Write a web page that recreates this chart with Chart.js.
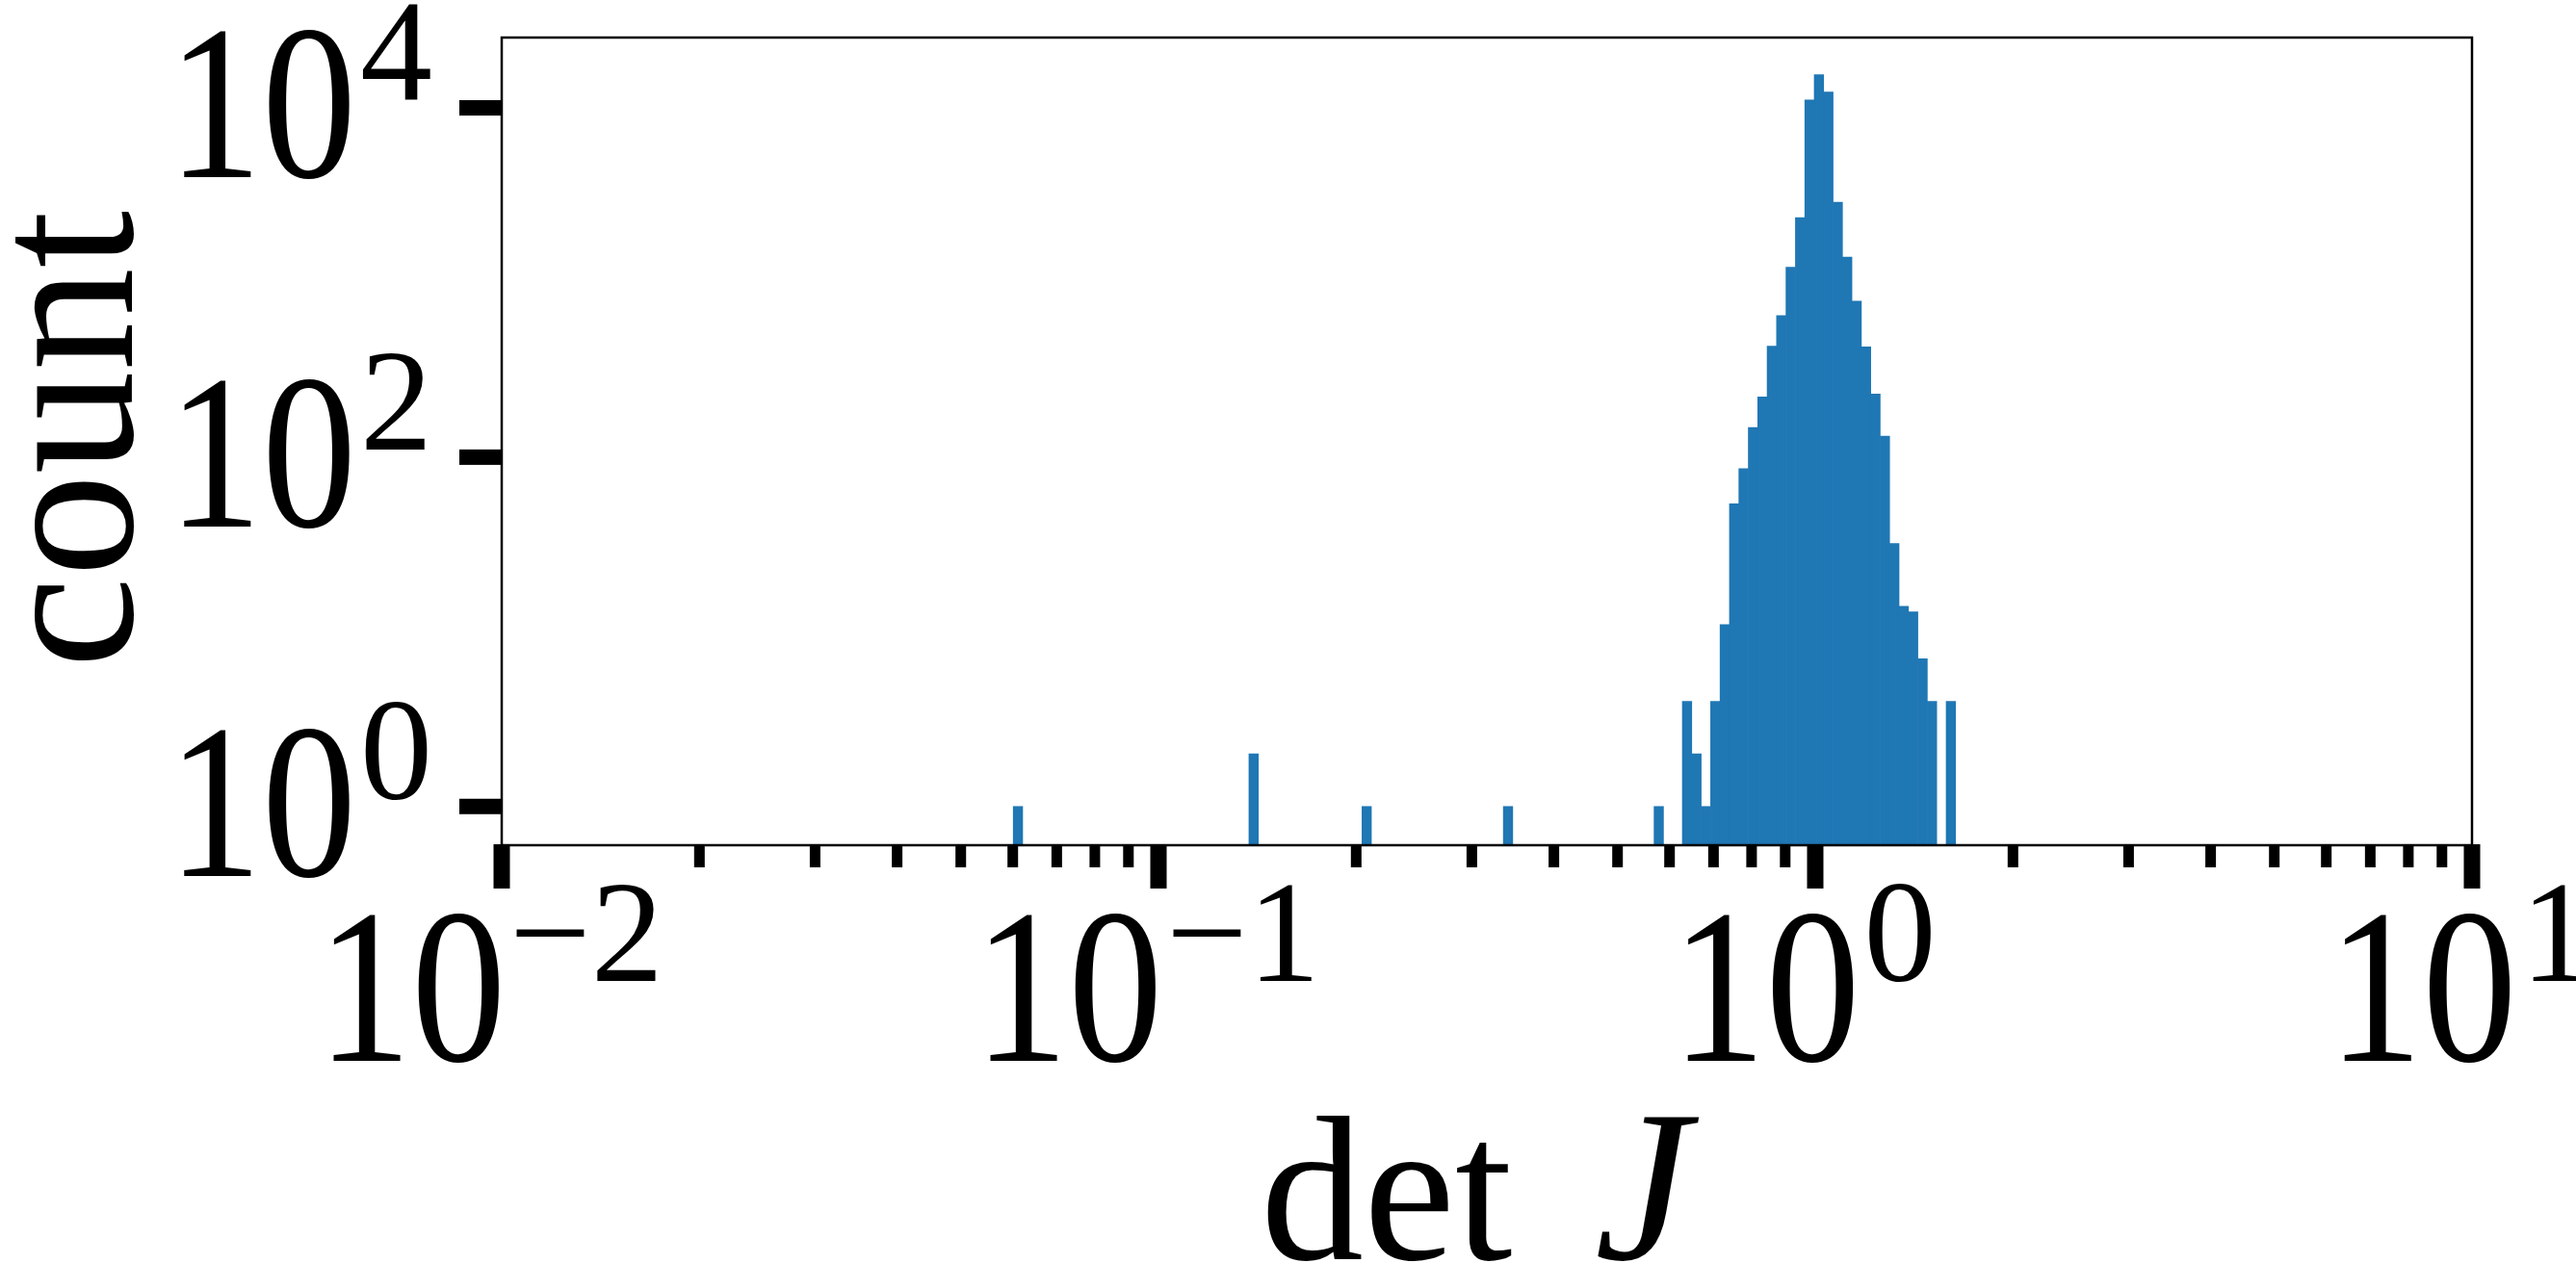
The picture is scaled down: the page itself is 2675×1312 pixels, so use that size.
<!DOCTYPE html>
<html><head><meta charset="utf-8">
<script src="https://cdn.jsdelivr.net/npm/chart.js@4.4.1/dist/chart.umd.min.js"></script>
<style>html,body{margin:0;padding:0;background:#fff;} #wrap{width:2675px;height:1312px;}</style>
</head><body><div id="wrap"><canvas id="c" width="2675" height="1312"></canvas></div>
<script>
// histogram bins (centre of each log-spaced bin, det J) and counts
const binCenters = [0.0611, 0.1396, 0.2075, 0.3406, 0.5778, 0.6380, 0.6595, 0.6816, 0.7045, 0.7282,
  0.7526, 0.7778, 0.8040, 0.8310, 0.8589, 0.8877, 0.9175, 0.9484, 0.9802, 1.0131,
  1.0472, 1.0823, 1.1187, 1.1563, 1.1951, 1.2352, 1.2767, 1.3196, 1.3639, 1.4097,
  1.4571, 1.5060, 1.6089];
const counts = [1, 2, 1, 1, 1, 4, 2, 1, 4, 11,
  54, 86, 148, 221, 432, 647, 1224, 2349, 11100, 15490,
  12340, 2885, 1400, 783, 428, 230, 132, 32, 14, 13,
  7, 4, 4];

const xMajorTickValues = [0.01, 0.1, 1, 10];
const xTickExponents = ['\u22122', '\u22121', '0', '1'];
const xMinorTickValues = [0.02,0.03,0.04,0.05,0.06,0.07,0.08,0.09,
  0.2,0.3,0.4,0.5,0.6,0.7,0.8,0.9, 2,3,4,5,6,7,8,9];
const yMajorTickValues = [1, 100, 10000];
const yTickExponents = ['0', '2', '4'];
const tickBase = '10';
const yTitle = 'count';
const xTitleUpright = 'det';
const xTitleItalic = 'J';

const FONT = '"Liberation Serif", "Times New Roman", serif';
const mainSize = 228, mainStretch = 0.86, supSize = 150, titleSize = 214;

function drawBase(ctx, x, y) {
  ctx.save();
  ctx.translate(x, y);
  ctx.scale(mainStretch, 1);
  ctx.fillText(tickBase, 0, 0);
  ctx.restore();
}

const axesPlugin = {
  id: 'mplAxes',
  afterDatasetsDraw(chart) {
    const {ctx, chartArea: a, scales} = chart;
    const xs = scales.x, ys = scales.y;
    ctx.save();
    ctx.fillStyle = '#000';
    ctx.strokeStyle = '#000';
    ctx.lineWidth = 2.5;
    ctx.strokeRect(a.left, a.top, a.right - a.left, a.bottom - a.top);
    xMinorTickValues.forEach(v => { const p = xs.getPixelForValue(v); ctx.fillRect(p - 5.5, a.bottom, 11, 23); });
    xMajorTickValues.forEach(v => { const p = xs.getPixelForValue(v); ctx.fillRect(p - 8.5, a.bottom - 1, 17, 46); });
    yMajorTickValues.forEach(v => { const p = ys.getPixelForValue(v); ctx.fillRect(a.left - 44, p - 8, 45, 16); });

    const big = mainSize + 'px ' + FONT, small = supSize + 'px ' + FONT;
    ctx.textBaseline = 'alphabetic';
    ctx.textAlign = 'left';
    xMajorTickValues.forEach((v, i) => {
      const p = xs.getPixelForValue(v);
      ctx.font = big; const wb = ctx.measureText(tickBase).width * mainStretch;
      ctx.font = small; const we = ctx.measureText(xTickExponents[i]).width;
      const x0 = p - 14 - (wb + we) / 2;
      ctx.font = big; drawBase(ctx, x0, a.bottom + 224);
      ctx.font = small; ctx.fillText(xTickExponents[i], x0 + wb + 4, a.bottom + 141);
    });
    yMajorTickValues.forEach((v, i) => {
      const p = ys.getPixelForValue(v);
      const xr = a.left - 72;
      ctx.font = small; const we = ctx.measureText(yTickExponents[i]).width;
      ctx.fillText(yTickExponents[i], xr - we, p - 8);
      ctx.font = big; const wb = ctx.measureText(tickBase).width * mainStretch;
      drawBase(ctx, xr - we - wb - 4, p + 72);
    });
    const tfont = titleSize + 'px ' + FONT;
    ctx.font = tfont;
    ctx.save();
    ctx.translate(137, (a.top + a.bottom) / 2 - 2);
    ctx.rotate(-Math.PI / 2);
    ctx.textAlign = 'center';
    ctx.fillText(yTitle, 0, 0);
    ctx.restore();
    const cx = (a.left + a.right) / 2;
    ctx.textAlign = 'left';
    ctx.font = tfont;
    ctx.fillText(xTitleUpright, cx - 235, 1308);
    ctx.font = 'italic ' + (titleSize + 10) + 'px ' + FONT;
    ctx.fillText(xTitleItalic, cx + 112, 1308);
    ctx.restore();
  }
};

new Chart(document.getElementById('c'), {
  type: 'bar',
  data: {
    datasets: [{
      data: binCenters.map((c, i) => ({x: c, y: counts[i]})),
      backgroundColor: '#1f77b4',
      borderWidth: 0,
      barPercentage: 1,
      categoryPercentage: 1
    }]
  },
  options: {
    responsive: false,
    animation: false,
    events: [],
    layout: { padding: { left: 521, right: 108, top: 39, bottom: 434 } },
    plugins: { legend: { display: false }, tooltip: { enabled: false } },
    scales: {
      x: { type: 'logarithmic', min: 0.01, max: 10, offset: false, display: false },
      y: { type: 'logarithmic', min: 0.6312, max: 25270, display: false }
    }
  },
  plugins: [axesPlugin]
});
</script></body></html>
